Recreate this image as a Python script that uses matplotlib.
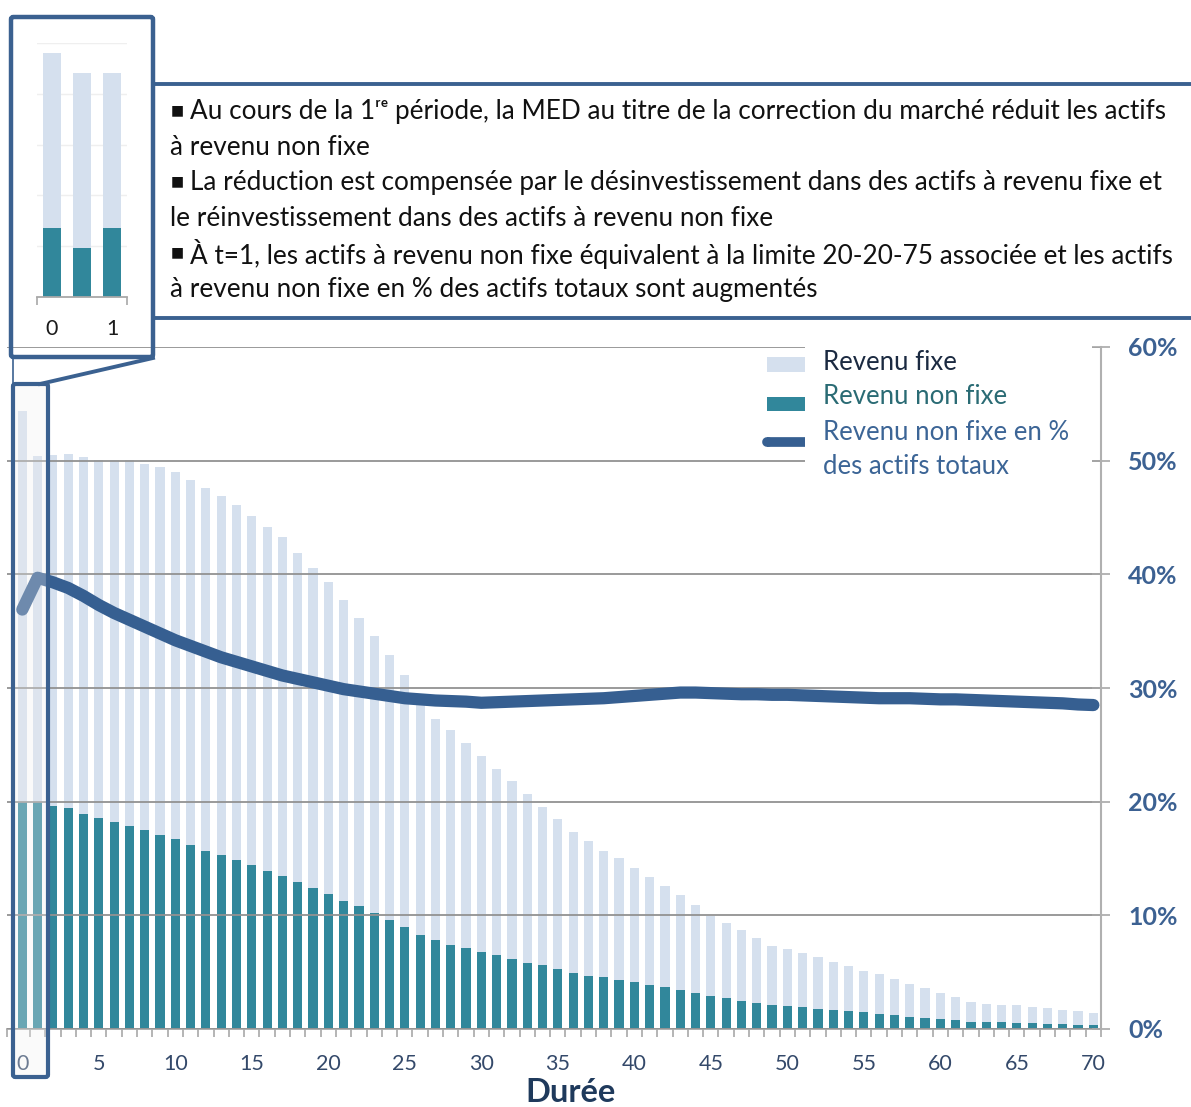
import matplotlib.pyplot as plt
import numpy as np
from matplotlib.patches import Rectangle, FancyBboxPatch
from matplotlib.lines import Line2D

plt.rcParams['font.family'] = ['Lato', 'DejaVu Sans']

# durée 0..70
t = np.arange(71)

# actifs totaux (fixe + non fixe) et part non fixe
total = [54.4, 50.4, 50.5, 50.6, 50.3, 50.1, 50.1, 50.1, 49.7, 49.4,
         49.0, 48.3, 47.6, 46.9, 46.1, 45.1, 44.2, 43.3, 41.9, 40.6,
         39.3, 37.7, 36.2, 34.6, 32.9, 31.1, 28.5, 27.3, 26.3, 25.2,
         24.0, 22.9, 21.8, 20.7, 19.5, 18.5, 17.3, 16.5, 15.7, 15.0,
         14.2, 13.4, 12.6, 11.8, 10.9, 9.9, 9.3, 8.7, 8.0, 7.3,
         7.0, 6.7, 6.3, 5.9, 5.55, 5.1, 4.8, 4.4, 4.0, 3.6,
         3.2, 2.8, 2.4, 2.2, 2.15, 2.1, 1.94, 1.85, 1.67, 1.6, 1.4]
non_fixe = [20.0, 20.0, 19.65, 19.4, 18.9, 18.6, 18.2, 17.9, 17.5, 17.1,
            16.7, 16.2, 15.7, 15.3, 14.85, 14.4, 13.9, 13.5, 12.9, 12.4,
            11.9, 11.3, 10.8, 10.2, 9.6, 9.0, 8.3, 7.8, 7.4, 7.1,
            6.8, 6.5, 6.2, 5.8, 5.6, 5.3, 4.9, 4.7, 4.55, 4.3,
            4.1, 3.9, 3.7, 3.4, 3.2, 2.9, 2.7, 2.5, 2.3, 2.1,
            2.0, 1.9, 1.8, 1.65, 1.6, 1.5, 1.3, 1.26, 1.09, 1.0,
            0.85, 0.77, 0.62, 0.62, 0.62, 0.53, 0.53, 0.44, 0.44, 0.35, 0.35]
fixe = np.array(total) - np.array(non_fixe)

# revenu non fixe en % des actifs totaux
pct_non_fixe = [36.9, 39.7, 39.3, 38.8, 38.1, 37.3, 36.6, 36.0, 35.4, 34.8,
                34.2, 33.7, 33.2, 32.7, 32.3, 31.9, 31.5, 31.1, 30.8, 30.5,
                30.2, 29.9, 29.7, 29.5, 29.3, 29.1, 29.0, 28.9, 28.85, 28.8,
                28.7, 28.75, 28.8, 28.85, 28.9, 28.95, 29.0, 29.05, 29.1, 29.2,
                29.3, 29.4, 29.5, 29.6, 29.6, 29.55, 29.5, 29.45, 29.45, 29.4,
                29.4, 29.35, 29.3, 29.25, 29.2, 29.15, 29.1, 29.1, 29.1, 29.05,
                29.0, 29.0, 28.95, 28.9, 28.85, 28.8, 28.75, 28.7, 28.65, 28.55, 28.5]

# zoom sur la 1re période : t=0, après choc, t=1
zoom_labels = ['0', '', '1']
zoom_total = [54.4, 50.4, 50.4]
zoom_non_fixe = [20.0, 16.0, 20.0]

pct_ticks = [0, 10, 20, 30, 40, 50, 60]

# lignes du commentaire (True = début de puce)
comment_lines = [
    (True, 'Au cours de la 1\u02b3\u1d49 période, la MED au titre de la correction du marché réduit les actifs'),
    (False, 'à revenu non fixe'),
    (True, 'La réduction est compensée par le désinvestissement dans des actifs à revenu fixe et'),
    (False, 'le réinvestissement dans des actifs à revenu non fixe'),
    (True, 'À t=1, les actifs à revenu non fixe équivalent à la limite 20-20-75 associée et les actifs'),
    (False, 'à revenu non fixe en % des actifs totaux sont augmentés'),
]

C_FIXE = '#d5e0ee'
C_NONFIXE = '#31879b'
C_LINE = '#365f91'
C_BORDER = '#3b6190'
C_GRID = '#929292'

W, H = 1191, 1107


def fx(x):
    return x / W


def fy(y):
    return 1 - y / H


fig = plt.figure(figsize=(W / 100, H / 100), dpi=100)

# --- graphique principal ---
ax = fig.add_axes([fx(7), fy(1029), (1101 - 7) / W, (1029 - 347) / H])
ax.bar(t, non_fixe, width=0.6, color=C_NONFIXE, zorder=1)
ax.bar(t, fixe, bottom=non_fixe, width=0.6, color=C_FIXE, zorder=1)
ax.set_xlim(-1.0, 70.5)
ax.set_ylim(0, 60)
ax.set_yticks(pct_ticks)
ax.set_yticklabels([])
ax.tick_params(axis='y', length=0)
ax.grid(axis='y', color=C_GRID, lw=1.3)
ax.set_axisbelow(False)
for s in ['top', 'left', 'right']:
    ax.spines[s].set_visible(False)
ax.spines['bottom'].set_color('#a8a8a8')
ax.spines['bottom'].set_linewidth(1.3)
ax.set_xticks(np.arange(0, 71, 5))
ax.set_xticklabels([str(v) for v in range(0, 71, 5)], fontsize=15.5, color='#34496a')
ax.set_xticks(np.concatenate([[-1.0], np.arange(0.5, 70, 1), [70.5]]), minor=True)
ax.tick_params(axis='x', which='major', length=0, pad=18)
ax.tick_params(axis='x', which='minor', length=6, color='#a8a8a8', width=1.2)

ax2 = ax.twinx()
ax2.plot(t, pct_non_fixe, color=C_LINE, lw=8.8, solid_capstyle='round', zorder=3)
ax2.set_ylim(0, 60)
ax2.set_yticks(pct_ticks)
ax2.set_yticklabels(['%d%%' % v for v in pct_ticks], fontsize=18, fontweight='bold',
                    color='#3c6192')
ax2.tick_params(axis='y', direction='inout', length=13, width=1.2, color='#a8a8a8', pad=13)
for s in ['top', 'left', 'bottom']:
    ax2.spines[s].set_visible(False)
ax2.spines['right'].set_color('#b0b0b0')
ax2.spines['right'].set_linewidth(1.5)

fig.text(fx(570), fy(1092), 'Durée', fontsize=23.5, fontweight='bold', color='#1f3a5c',
         ha='center', va='center')

# --- légende ---
fig.add_artist(Rectangle((fx(805), fy(487)), (1092 - 805) / W, (487 - 338) / H,
                         transform=fig.transFigure, fc='white', ec='none', zorder=2))
fig.add_artist(Rectangle((fx(767), fy(372)), 38 / W, 15 / H, transform=fig.transFigure,
                         fc=C_FIXE, ec='none', zorder=3))
fig.add_artist(Rectangle((fx(767), fy(411)), 38 / W, 14 / H, transform=fig.transFigure,
                         fc=C_NONFIXE, ec='none', zorder=3))
fig.add_artist(Line2D([fx(767), fx(805)], [fy(442), fy(442)], transform=fig.transFigure,
                      color=C_LINE, lw=7, solid_capstyle='butt', zorder=3))
fig.add_artist(Line2D([fx(767), fx(768)], [fy(442), fy(442)], transform=fig.transFigure,
                      color=C_LINE, lw=7, solid_capstyle='round', zorder=3))
leg_kw = dict(fontsize=18.5, ha='left', va='center', zorder=4)
fig.text(fx(823), fy(363), 'Revenu fixe', color='#1b2a41', **leg_kw)
fig.text(fx(823), fy(397), 'Revenu non fixe', color='#2a6b74', **leg_kw)
fig.text(fx(823), fy(432), 'Revenu non fixe en %', color='#3c6596', **leg_kw)
fig.text(fx(823), fy(466), 'des actifs totaux', color='#3c6596', **leg_kw)

# --- encart zoom ---
axz = fig.add_axes([fx(37), fy(297), (127 - 37) / W, (297 - 43) / H])
zx = np.arange(len(zoom_labels))
axz.bar(zx, zoom_non_fixe, width=0.57, color=C_NONFIXE, zorder=2)
axz.bar(zx, np.array(zoom_total) - np.array(zoom_non_fixe), bottom=zoom_non_fixe,
        width=0.57, color=C_FIXE, zorder=2)
axz.set_xlim(-0.5, 2.5)
axz.set_ylim(6.4, 56.4)
axz.set_yticks([16.4, 26.4, 36.4, 46.4, 56.4])
axz.set_yticklabels([])
axz.tick_params(axis='y', length=0)
axz.grid(axis='y', color='#efefef', lw=1)
axz.set_axisbelow(True)
for s in ['top', 'left', 'right']:
    axz.spines[s].set_visible(False)
axz.spines['bottom'].set_color('#a8a8a8')
axz.spines['bottom'].set_linewidth(1.3)
axz.set_xticks([0, 2])
axz.set_xticklabels([zoom_labels[0], zoom_labels[2]], fontsize=15.5, color='#1b1b1b')
axz.set_xticks([-0.5, 2.5], minor=True)
axz.tick_params(axis='x', which='major', length=0, pad=16)
axz.tick_params(axis='x', which='minor', length=6, color='#a8a8a8', width=1.2)

# cadre de l'encart et liaison vers t=0..1
fig.add_artist(FancyBboxPatch((fx(11), fy(357)), (153 - 11) / W, (357 - 17) / H,
                              boxstyle='round,pad=0,rounding_size=0.002',
                              transform=fig.transFigure, fc='none', ec=C_BORDER,
                              lw=3.2, zorder=6))
fig.add_artist(Line2D([fx(13), fx(13)], [fy(358), fy(384)], transform=fig.transFigure,
                      color=C_BORDER, lw=1.2, zorder=6))
fig.add_artist(Line2D([fx(153), fx(40)], [fy(358), fy(384)], transform=fig.transFigure,
                      color=C_BORDER, lw=2.8, zorder=6))
fig.add_artist(FancyBboxPatch((fx(13), fy(1077)), (48 - 13) / W, (1077 - 384) / H,
                              boxstyle='round,pad=0,rounding_size=0.002',
                              transform=fig.transFigure, fc=(0.94, 0.94, 0.94, 0.3),
                              ec=C_BORDER, lw=3.0, zorder=6))

# --- panneau de commentaires ---
for yy in (83.5, 318.5):
    fig.add_artist(Line2D([fx(153), fx(1191)], [fy(yy), fy(yy)], transform=fig.transFigure,
                          color=C_BORDER, lw=2.8, zorder=6))
for i, (puce, txt) in enumerate(comment_lines):
    y = fy(112 + i * 35.4)
    if puce:
        fig.text(fx(171), y + 1.5 / H, '\u25a0', fontsize=10, color='#111111', ha='left',
                 va='center', family='DejaVu Sans')
        fig.text(fx(190), y, txt, fontsize=18.8, color='#111111', ha='left', va='center')
    else:
        fig.text(fx(170), y, txt, fontsize=18.8, color='#111111', ha='left', va='center')

fig.savefig('out.png', dpi=100)
